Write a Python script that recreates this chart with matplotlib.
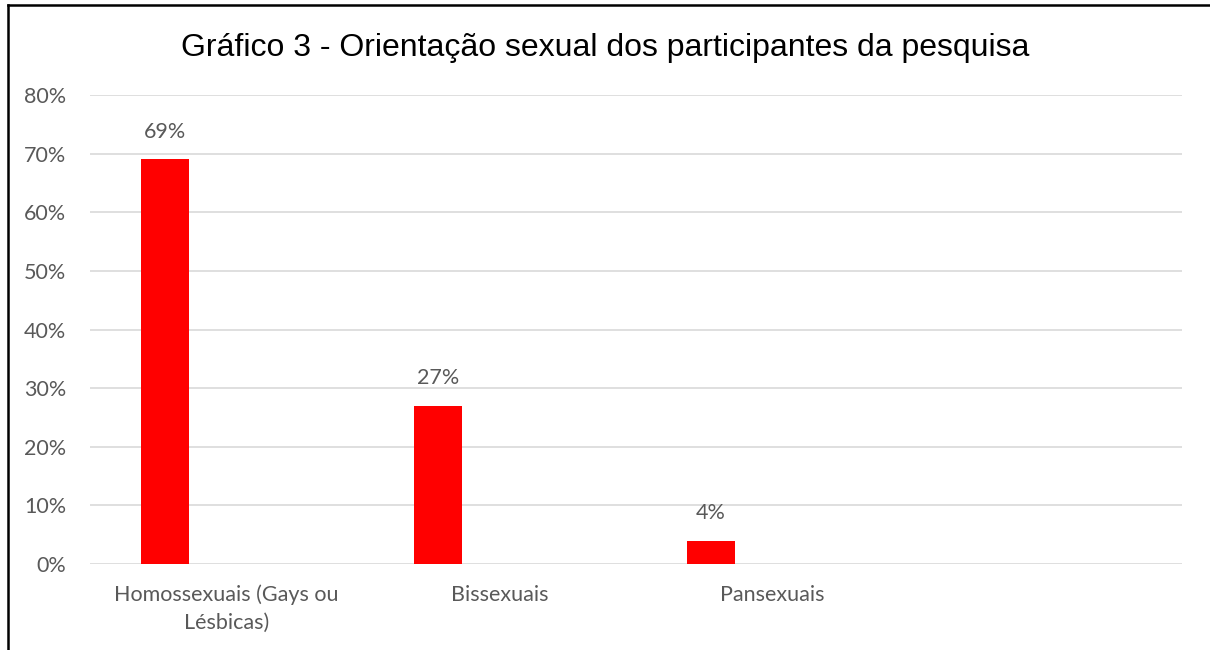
import matplotlib
matplotlib.use('Agg')
import matplotlib.pyplot as plt
from matplotlib.lines import Line2D
from matplotlib.ticker import PercentFormatter

# data
categories = ['Homossexuais (Gays ou\nLésbicas)', 'Bissexuais', 'Pansexuais', '']
values     = [0.69, 0.27, 0.04, None]
labels     = ['69%', '27%', '4%', '']

TXT  = '#595959'
GRID = '#d9d9d9'
FS   = 15.5

fig = plt.figure(figsize=(12.1, 6.5), dpi=100)
ax = fig.add_axes([90/1210, 1 - 564/650, (1182 - 90)/1210, (564 - 95)/650])

xs = range(len(categories))
off, w = -0.225, 0.176
for x, v, lab in zip(xs, values, labels):
    if v is None:
        continue
    ax.bar(x + off, v, width=w, color='#ff0000', zorder=3)
    ax.text(x + off, v + 0.03, lab, ha='center', va='bottom',
            fontsize=FS, color=TXT, family='Lato')

ax.set_xlim(-0.5, len(categories) - 0.5)
ax.set_ylim(0, 0.8)
ax.set_yticks([i / 10 for i in range(9)])
ax.yaxis.set_major_formatter(PercentFormatter(1.0, decimals=0))
ax.set_xticks(list(xs))
ax.set_xticklabels(categories)
ax.grid(axis='y', color=GRID, lw=1.2, zorder=0)
for s in ax.spines.values():
    s.set_visible(False)
ax.tick_params(length=0, colors=TXT, labelsize=FS)
ax.tick_params(axis='x', pad=15)
ax.tick_params(axis='y', pad=17)
for t in ax.get_xticklabels() + ax.get_yticklabels():
    t.set_family('Lato')
    t.set_color(TXT)
for t in ax.get_xticklabels():
    t.set_linespacing(1.45)

fig.text(0.5, 1 - 48/650, 'Gráfico 3 - Orientação sexual dos participantes da pesquisa',
         ha='center', va='center', fontsize=23, family='Liberation Sans', color='black')

# only top and left edges of the frame are visible
fig.lines.append(Line2D([7.5/1210, 1], [1 - 4.5/650, 1 - 4.5/650],
                        transform=fig.transFigure, color='black', lw=1.8))
fig.lines.append(Line2D([7.5/1210, 7.5/1210], [0, 1 - 4.5/650],
                        transform=fig.transFigure, color='black', lw=1.8))

fig.savefig('out.png', dpi=100)
